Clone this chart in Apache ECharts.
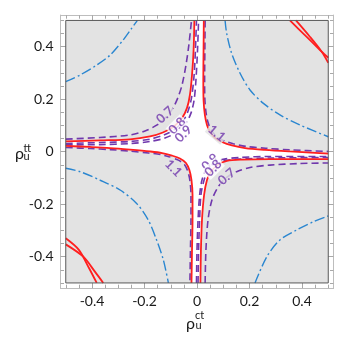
<!DOCTYPE html>
<html>
<head>
<meta charset="utf-8">
<script src="https://cdn.jsdelivr.net/npm/echarts@6/dist/echarts.min.js"></script>
<style>
  html, body { margin: 0; background: #fff; }
  #chart { width: 349px; height: 340px; }
</style>
</head>
<body>
<div id="chart"></div>
<script>
// axes
const plotRange = [-0.5, 0.5];
const majorTicks = [-0.4, -0.2, 0, 0.2, 0.4];
const minorTicks = [-0.5, -0.45, -0.35, -0.3, -0.25, -0.15, -0.1, -0.05,
  0.05, 0.1, 0.15, 0.25, 0.3, 0.35, 0.45, 0.5];

// red curves bounding the white region
const redUR = [[0.026, 0.5], [0.025, 0.39], [0.024, 0.273], [0.025, 0.197], [0.030, 0.14], [0.038, 0.102],
  [0.050, 0.075], [0.069, 0.052], [0.095, 0.037], [0.133, 0.024], [0.183, 0.014], [0.259, 0.007], [0.354, 0.001], [0.5, -0.007]];
const redLR = [[0.013, -0.5], [0.015, -0.375], [0.019, -0.26], [0.027, -0.165], [0.038, -0.108], [0.053, -0.074],
  [0.076, -0.051], [0.114, -0.035], [0.171, -0.03], [0.278, -0.028], [0.5, -0.028]];
const redLL = [[-0.5, 0.022], [-0.408, 0.018], [-0.331, 0.014], [-0.255, 0.008], [-0.179, 0.001], [-0.133, -0.005],
  [-0.095, -0.015], [-0.065, -0.026], [-0.042, -0.043], [-0.029, -0.07], [-0.021, -0.108], [-0.017, -0.165],
  [-0.017, -0.26], [-0.019, -0.375], [-0.021, -0.5]];
const redUL = [[-0.5, 0.039], [-0.37, 0.043], [-0.255, 0.047], [-0.179, 0.058], [-0.13, 0.073], [-0.088, 0.096],
  [-0.057, 0.128], [-0.038, 0.167], [-0.027, 0.216], [-0.019, 0.292], [-0.013, 0.387], [-0.01, 0.5]];

// red curves in the corners
const redCornerUR1 = [[0.354, 0.5], [0.411, 0.444], [0.462, 0.394], [0.5, 0.358]];
const redCornerUR2 = [[0.377, 0.5], [0.43, 0.438], [0.475, 0.381], [0.5, 0.339]];
const redCornerLL1 = [[-0.5, -0.33], [-0.45, -0.374], [-0.411, -0.444], [-0.382, -0.5]];
const redCornerLL2 = [[-0.5, -0.353], [-0.433, -0.4], [-0.389, -0.457], [-0.357, -0.5]];

// purple dashed contours
const c07UL = [[-0.5, 0.048], [-0.37, 0.054], [-0.255, 0.064], [-0.198, 0.079], [-0.152, 0.102], [-0.118, 0.132],
  [-0.091, 0.167], [-0.072, 0.208], [-0.057, 0.254], [-0.042, 0.33], [-0.031, 0.407], [-0.021, 0.5]];
const c08UL = [[-0.5, 0.031], [-0.37, 0.035], [-0.255, 0.039], [-0.179, 0.048], [-0.13, 0.062], [-0.088, 0.083],
  [-0.053, 0.117], [-0.034, 0.155], [-0.021, 0.205], [-0.011, 0.292], [-0.006, 0.387], [-0.002, 0.5]];
const c09UL = [[-0.5, 0.026], [-0.37, 0.027], [-0.255, 0.031], [-0.179, 0.039], [-0.122, 0.052], [-0.076, 0.075],
  [-0.042, 0.109], [-0.023, 0.147], [-0.011, 0.197], [-0.004, 0.273], [0.002, 0.387], [0.006, 0.5]];
const c09LR = [[-0.002, -0.5], [0, -0.375], [0.004, -0.26], [0.01, -0.165], [0.019, -0.108], [0.034, -0.07],
  [0.057, -0.047], [0.095, -0.03], [0.164, -0.022], [0.278, -0.018], [0.5, -0.018]];
const c08LR = [[0.004, -0.5], [0.006, -0.375], [0.01, -0.26], [0.015, -0.165], [0.027, -0.108], [0.042, -0.074],
  [0.065, -0.053], [0.099, -0.035], [0.164, -0.028], [0.278, -0.024], [0.5, -0.022]];
const c07LR = [[0.031, -0.5], [0.034, -0.375], [0.042, -0.26], [0.057, -0.184], [0.08, -0.135], [0.11, -0.1],
  [0.149, -0.077], [0.202, -0.06], [0.278, -0.051], [0.392, -0.045], [0.5, -0.043]];
const c11UR = [[0.031, 0.5], [0.030, 0.39], [0.029, 0.273], [0.030, 0.2], [0.035, 0.145], [0.043, 0.108],
  [0.055, 0.081], [0.074, 0.058], [0.1, 0.043], [0.138, 0.03], [0.188, 0.02], [0.262, 0.013], [0.356, 0.007], [0.5, 0.001]];
const c11LL = [[-0.5, 0.016], [-0.408, 0.012], [-0.331, 0.008], [-0.255, 0.002], [-0.185, -0.005], [-0.139, -0.011],
  [-0.101, -0.021], [-0.071, -0.032], [-0.048, -0.049], [-0.035, -0.075], [-0.027, -0.11], [-0.023, -0.165],
  [-0.023, -0.26], [-0.025, -0.375], [-0.027, -0.5]];

// blue dash-dot contours
const blueUR = [[0.107, 0.5], [0.113, 0.451], [0.132, 0.375], [0.164, 0.299], [0.202, 0.235], [0.253, 0.184],
  [0.316, 0.14], [0.392, 0.102], [0.5, 0.057]];
const blueUL = [[-0.5, 0.267], [-0.446, 0.292], [-0.382, 0.33], [-0.331, 0.368], [-0.281, 0.426], [-0.249, 0.47], [-0.227, 0.5]];
const blueLL = [[-0.5, -0.063], [-0.446, -0.076], [-0.37, -0.108], [-0.293, -0.146], [-0.23, -0.197], [-0.186, -0.26],
  [-0.154, -0.336], [-0.128, -0.413], [-0.109, -0.5]];
const blueLR = [[0.221, -0.5], [0.266, -0.4], [0.316, -0.336], [0.38, -0.298], [0.443, -0.267], [0.5, -0.245]];

// contour labels: x, y, text
const contourLabels = [[-0.122, 0.14, '0.7'], [-0.075, 0.098, '0.8'], [-0.052, 0.068, '0.9'], [0.075, 0.07, '1.1'],
  [-0.09, -0.063, '1.1'], [0.05, -0.04, '0.9'], [0.062, -0.063, '0.8'], [0.113, -0.095, '0.7']];
const labelAngles = [42, 45, 45, -40, -45, 45, 45, 40];
const labelOnGray = [true, false, false, true, true, false, false, true];

const RED = '#ff1f1f';
const PURPLE = '#7038ad';
const BLUE = '#2a86d0';
const GRAY = '#e3e3e3';
const FONT = 'Lato, "Noto Sans", sans-serif';

const chart = echarts.init(document.getElementById('chart'), null, { renderer: 'canvas' });

function frameAxis(dim, position, ticks, len, withLabels) {
  return {
    type: 'value',
    position,
    min: -0.52,
    max: 0.52,
    axisLine: { show: true, onZero: false, lineStyle: { color: '#bdbdbd', width: 1 } },
    axisTick: { show: true, inside: true, length: len, customValues: ticks, lineStyle: { color: '#a8a8a8', width: 1 } },
    axisLabel: withLabels
      ? { show: true, customValues: ticks, margin: dim === 'x' ? 6 : 7, color: '#1a1a1a', fontSize: 14, fontFamily: FONT }
      : { show: false },
    splitLine: { show: false },
  };
}

function contour(data, color, type, width) {
  return {
    type: 'line',
    data,
    showSymbol: false,
    smooth: 0.3,
    silent: true,
    z: 3,
    lineStyle: { color, type, width },
  };
}

const whiteRegion = [...redUR, ...redLR.slice().reverse(), ...redLL.slice().reverse(), ...redUL];

const dash = [7, 4];
const dashDot = [10, 3, 2, 3];

chart.setOption({
  animation: false,
  grid: { left: 60.5, right: 15.5, top: 15.2, bottom: 51.8 },
  xAxis: [
    frameAxis('x', 'bottom', majorTicks, 6, true),
    frameAxis('x', 'bottom', minorTicks, 3.5, false),
    frameAxis('x', 'top', majorTicks, 6, false),
    frameAxis('x', 'top', minorTicks, 3.5, false),
  ],
  yAxis: [
    frameAxis('y', 'left', majorTicks, 6, true),
    frameAxis('y', 'left', minorTicks, 3.5, false),
    frameAxis('y', 'right', majorTicks, 6, false),
    frameAxis('y', 'right', minorTicks, 3.5, false),
  ],
  series: [
    {
      type: 'custom',
      silent: true,
      z: 1,
      data: [[0, 0]],
      renderItem: (params, api) => {
        const a = api.coord([plotRange[0], plotRange[1]]);
        const b = api.coord([plotRange[1], plotRange[0]]);
        return {
          type: 'group',
          children: [
            { type: 'rect', shape: { x: a[0], y: a[1], width: b[0] - a[0], height: b[1] - a[1] }, style: { fill: GRAY } },
            { type: 'polygon', shape: { points: whiteRegion.map((p) => api.coord(p)) }, style: { fill: '#fff' } },
          ],
        };
      },
    },
    contour(blueUR, BLUE, dashDot, 1.4),
    contour(blueUL, BLUE, dashDot, 1.4),
    contour(blueLL, BLUE, dashDot, 1.4),
    contour(blueLR, BLUE, dashDot, 1.4),
    contour(c07UL, PURPLE, dash, 1.6),
    contour(c08UL, PURPLE, dash, 1.6),
    contour(c09UL, PURPLE, dash, 1.6),
    contour(c09LR, PURPLE, dash, 1.6),
    contour(c08LR, PURPLE, dash, 1.6),
    contour(c07LR, PURPLE, dash, 1.6),
    contour(c11UR, PURPLE, dash, 1.6),
    contour(c11LL, PURPLE, dash, 1.6),
    contour(redUR, RED, 'solid', 1.8),
    contour(redLR, RED, 'solid', 1.8),
    contour(redLL, RED, 'solid', 1.8),
    contour(redUL, RED, 'solid', 1.8),
    contour(redCornerUR1, RED, 'solid', 1.8),
    contour(redCornerUR2, RED, 'solid', 1.8),
    contour(redCornerLL1, RED, 'solid', 1.8),
    contour(redCornerLL2, RED, 'solid', 1.8),
    {
      type: 'scatter',
      symbolSize: 0,
      silent: true,
      z: 5,
      data: contourLabels.map((d, i) => ({
        value: [d[0], d[1]],
        name: d[2],
        label: { rotate: labelAngles[i], backgroundColor: labelOnGray[i] ? GRAY : '#fff' },
      })),
      label: {
        show: true,
        position: 'inside',
        formatter: (p) => p.name,
        color: PURPLE,
        fontSize: 13,
        fontWeight: 'bold',
        fontFamily: FONT,
        padding: [0, 1],
      },
    },
    {
      type: 'custom',
      silent: true,
      z: 6,
      data: [[0, 0]],
      renderItem: (params, api) => {
        const a = api.coord([plotRange[0], plotRange[1]]);
        const b = api.coord([plotRange[1], plotRange[0]]);
        return {
          type: 'rect',
          shape: { x: a[0], y: a[1], width: b[0] - a[0], height: b[1] - a[1] },
          style: { fill: 'none', stroke: '#5a5a5a', lineWidth: 1 },
        };
      },
    },
  ],
  graphic: [
    { type: 'text', left: 186, top: 316, style: { text: 'ρ', font: '16px ' + FONT, fill: '#1a1a1a' } },
    { type: 'text', left: 195, top: 310, style: { text: 'ct', font: '11px ' + FONT, fill: '#1a1a1a' } },
    { type: 'text', left: 195.5, top: 320, style: { text: 'u', font: '11px ' + FONT, fill: '#1a1a1a' } },
    { type: 'text', left: 15, top: 146, style: { text: 'ρ', font: '16px ' + FONT, fill: '#1a1a1a' } },
    { type: 'text', left: 23.5, top: 143, style: { text: 'tt', font: '11px ' + FONT, fill: '#1a1a1a' } },
    { type: 'text', left: 23.5, top: 151, style: { text: 'u', font: '11px ' + FONT, fill: '#1a1a1a' } },
  ],
});
</script>
</body>
</html>
